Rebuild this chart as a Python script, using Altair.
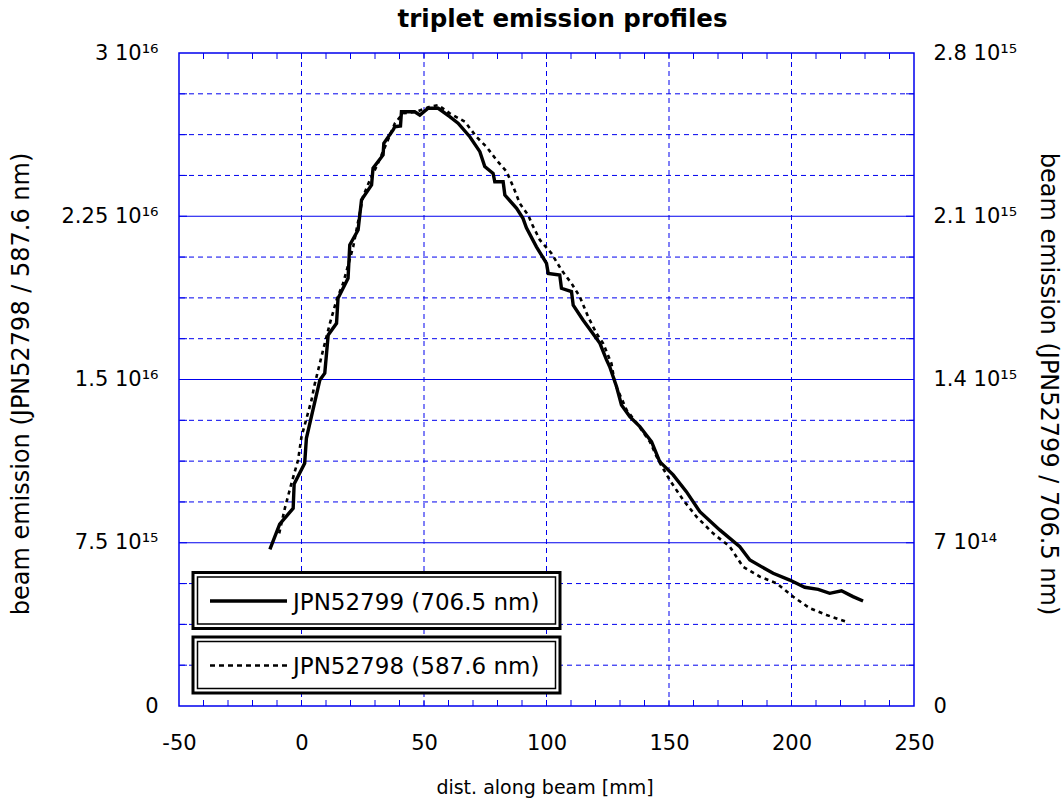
import json
import altair as alt
import pandas as pd

# ---------------- data ----------------
# JPN52799 (706.5 nm) -> right axis
x_52799 = [-12.9, -8.9, -3.4, -3.0, 1.3, 2.0, 7.5, 9.5, 10.9, 14.3, 14.9, 19.0, 19.7, 23.1,
           24.5, 28.6, 29.2, 33.3, 33.6, 37.4, 38.1, 40.4, 40.8, 46.2, 48.3, 51.7, 55.8, 60.5,
           63.9, 68.7, 72.8, 74.8, 78.2, 78.9, 82.3, 83.0, 87.8, 90.4, 91.8, 95.9, 100.0, 100.7,
           105.4, 106.1, 110.2, 110.9, 114.9, 118.4, 121.8, 124.5, 125.8, 128.6, 130.6, 134.0,
           138.1, 142.9, 146.2, 151.7, 157.1, 162.6, 170.7, 178.9, 183.0, 192.5, 199.3, 205.4,
           210.9, 215.6, 220.4, 225.1, 229.2]
y_52799 = [6.72e14, 7.80e14, 8.48e14, 9.52e14, 10.41e14, 11.48e14, 13.98e14, 14.27e14, 15.91e14,
           16.41e14, 17.48e14, 18.34e14, 19.77e14, 20.41e14, 21.70e14, 22.34e14, 23.06e14,
           23.63e14, 24.13e14, 24.70e14, 24.84e14, 24.87e14, 25.48e14, 25.48e14, 25.34e14,
           25.63e14, 25.63e14, 25.27e14, 24.99e14, 24.41e14, 23.77e14, 23.13e14, 22.84e14,
           22.48e14, 22.48e14, 21.91e14, 21.34e14, 20.91e14, 20.50e14, 19.69e14, 18.98e14,
           18.55e14, 18.48e14, 17.91e14, 17.77e14, 17.19e14, 16.55e14, 16.05e14, 15.55e14,
           14.84e14, 14.55e14, 13.69e14, 12.91e14, 12.41e14, 11.98e14, 11.33e14, 10.48e14,
           9.91e14, 9.19e14, 8.33e14, 7.55e14, 6.83e14, 6.26e14, 5.69e14, 5.40e14, 5.09e14,
           5.00e14, 4.83e14, 4.94e14, 4.69e14, 4.50e14]

# JPN52798 (587.6 nm) -> left axis
x_52798 = [-9.1, -6.8, -4.1, -1.4, 0.0, 4.1, 5.4, 8.8, 11.6, 14.3, 17.0, 21.1, 25.1, 27.9, 30.6,
           34.7, 38.1, 41.5, 46.9, 52.4, 55.8, 60.5, 66.7, 71.4, 75.5, 79.6, 83.7, 86.4, 89.1,
           92.5, 93.9, 97.3, 102.0, 106.1, 110.2, 113.6, 117.0, 120.4, 123.1, 126.5, 127.9,
           132.7, 137.4, 142.2, 145.6, 150.3, 155.8, 161.2, 168.0, 174.8, 180.2, 187.1, 193.9,
           200.7, 207.5, 214.3, 222.4]
y_52798 = [7.93e15, 9.08e15, 10.23e15, 11.30e15, 12.37e15, 14.06e15, 14.79e15, 16.35e15,
           17.58e15, 18.65e15, 19.42e15, 21.10e15, 23.40e15, 24.16e15, 24.78e15, 25.85e15,
           26.77e15, 27.23e15, 27.30e15, 27.53e15, 27.61e15, 27.23e15, 26.84e15, 26.15e15,
           25.69e15, 25.08e15, 24.55e15, 23.86e15, 23.09e15, 22.56e15, 22.18e15, 21.41e15,
           20.80e15, 20.03e15, 19.42e15, 18.80e15, 17.88e15, 17.12e15, 16.66e15, 15.74e15,
           14.82e15, 13.60e15, 12.91e15, 12.14e15, 11.30e15, 10.38e15, 9.46e15, 8.70e15,
           7.93e15, 7.32e15, 6.40e15, 5.94e15, 5.64e15, 5.02e15, 4.49e15, 4.18e15, 3.87e15]

x_ticks = [-50, 0, 50, 100, 150, 200, 250]
x_minor = [-40, -30, -20, -10, 0, 10, 20, 30, 40, 50, 60, 70, 80, 90, 100, 110, 120, 130,
           140, 150, 160, 170, 180, 190, 200, 210, 220, 230, 240]
x_grid = [0, 50, 100, 150, 200]

left_ticks = [0, 7.5e15, 1.5e16, 2.25e16, 3e16]
left_labels = ["0", "7.5 10¹⁵", "1.5 10¹⁶", "2.25 10¹⁶", "3 10¹⁶"]
right_ticks = [0, 7e14, 1.4e15, 2.1e15, 2.8e15]
right_labels = ["0", "7 10¹⁴", "1.4 10¹⁵", "2.1 10¹⁵", "2.8 10¹⁵"]

grid_major = [7.5e15, 1.5e16, 2.25e16]
grid_minor = [1.875e15, 3.75e15, 5.625e15, 9.375e15, 1.125e16, 1.3125e16, 1.6875e16,
              1.875e16, 2.0625e16, 2.4375e16, 2.625e16, 2.8125e16]

legend_labels = ["JPN52799 (706.5 nm)", "JPN52798 (587.6 nm)"]

title_text = "triplet emission profiles"
x_title = "dist. along beam [mm]"
left_title = "beam emission (JPN52798 / 587.6 nm)"
right_title = "beam emission (JPN52799 / 706.5 nm)"

# ---------------- styling ----------------
W, H = 735, 653
BLUE = "#0000ee"
FONT = "DejaVu Sans"
FS = 21

x_scale = alt.Scale(domain=[-50, 250], nice=False, zero=False)
yl_scale = alt.Scale(domain=[0, 3e16], nice=False, zero=True)
yr_scale = alt.Scale(domain=[0, 2.8e15], nice=False, zero=True)


def label_expr(ticks, labels):
    return (json.dumps(labels, ensure_ascii=False) + "[indexof(" +
            json.dumps([float(t) for t in ticks]) + ", datum.value)]")


common = dict(ticks=False, tickSize=0, domain=False, grid=False, labelFont=FONT,
              labelFontSize=FS, labelColor="black", labelOverlap=False, labelFlush=False,
              titleFont=FONT, titleFontWeight="normal", titleColor="black",
              titleAlign="center", titleBaseline="middle")

x_axis = alt.Axis(values=x_ticks, labelPadding=26, title=x_title,
                  labelExpr="(datum.value < 0 ? '-' : '') + abs(datum.value)",
                  titleFontSize=19, titleX=W / 2 - 2, titleY=81, **common)
yl_axis = alt.Axis(orient="left", values=left_ticks, labelExpr=label_expr(left_ticks, left_labels),
                   labelPadding=21, title=left_title, titleX=-158, titleY=H / 2 + 4,
                   titleFontSize=24, titleAngle=270, **common)
yr_axis = alt.Axis(orient="right", values=right_ticks,
                   labelExpr=label_expr(right_ticks, right_labels),
                   labelPadding=19, title=right_title, titleX=133, titleY=H / 2 + 4,
                   titleFontSize=24, titleAngle=90, **common)

X = lambda: alt.X("x:Q", scale=x_scale, axis=x_axis, title=x_title)

df_a = pd.DataFrame({"x": x_52798, "v": y_52798})
df_b = pd.DataFrame({"x": x_52799, "v": y_52799})

layers = []

# horizontal grid
layers.append(alt.Chart(pd.DataFrame({"v": grid_minor})).mark_rule(
    color=BLUE, strokeWidth=1, strokeDash=[5, 4]).encode(
    y=alt.Y("v:Q", scale=yl_scale, axis=None)))
layers.append(alt.Chart(pd.DataFrame({"v": grid_major})).mark_rule(
    color=BLUE, strokeWidth=1.2).encode(
    y=alt.Y("v:Q", scale=yl_scale, axis=None)))
# vertical grid
layers.append(alt.Chart(pd.DataFrame({"x": x_grid})).mark_rule(
    color=BLUE, strokeWidth=1, strokeDash=[5, 4]).encode(x=X()))
# inward ticks on x (bottom and top)
layers.append(alt.Chart(pd.DataFrame({"x": x_minor})).mark_rule(
    color=BLUE, strokeWidth=1).encode(x=X(), y=alt.value(H), y2=alt.value(H - 6)))
layers.append(alt.Chart(pd.DataFrame({"x": x_minor})).mark_rule(
    color=BLUE, strokeWidth=1).encode(x=X(), y=alt.value(0), y2=alt.value(6)))
# inward ticks on y (left and right)
all_levels = sorted(grid_minor + grid_major)
layers.append(alt.Chart(pd.DataFrame({"v": all_levels})).mark_rule(
    color=BLUE, strokeWidth=1).encode(
    y=alt.Y("v:Q", scale=yl_scale, axis=None), x=alt.value(0), x2=alt.value(8)))
layers.append(alt.Chart(pd.DataFrame({"v": all_levels})).mark_rule(
    color=BLUE, strokeWidth=1).encode(
    y=alt.Y("v:Q", scale=yl_scale, axis=None), x=alt.value(W - 8), x2=alt.value(W)))

# curves
layers.append(alt.Chart(df_a).mark_line(color="black", strokeWidth=2.6, strokeDash=[4, 4]).encode(
    x=X(), y=alt.Y("v:Q", scale=yl_scale, axis=yl_axis, title=left_title)))
layers.append(alt.Chart(df_b).mark_line(color="black", strokeWidth=3.4).encode(
    x=X(), y=alt.Y("v:Q", scale=yr_scale, axis=yr_axis, title=right_title)))


# legend boxes
def legend_entry(label, top, dash):
    d = alt.Data(values=[{"label": label}])
    out = []
    out.append(alt.Chart(d).mark_rect(fill="white", stroke="black", strokeWidth=3).encode(
        x=alt.value(14), x2=alt.value(381), y=alt.value(top), y2=alt.value(top + 56)))
    out.append(alt.Chart(d).mark_rect(fill="white", stroke="black", strokeWidth=1.5).encode(
        x=alt.value(18.5), x2=alt.value(376.5), y=alt.value(top + 4.5), y2=alt.value(top + 51.5)))
    rule_kw = dict(color="black", strokeWidth=3.4 if dash is None else 2.6)
    if dash is not None:
        rule_kw["strokeDash"] = dash
    out.append(alt.Chart(d).mark_rule(**rule_kw).encode(
        x=alt.value(31), x2=alt.value(108), y=alt.value(top + 28.5)))
    out.append(alt.Chart(d).mark_text(align="left", baseline="middle", font=FONT, fontSize=23,
                                      color="black").encode(
        x=alt.value(114), y=alt.value(top + 30), text="label:N"))
    return out


layers += legend_entry(legend_labels[0], 519.5, None)
layers += legend_entry(legend_labels[1], 584, [5, 4])

chart = alt.layer(*layers).resolve_scale(y="independent").properties(
    width=W, height=H,
    title=alt.TitleParams(title_text, font=FONT, fontSize=24.5, fontWeight="bold", anchor="middle",
                          dx=16, offset=10, frame="group", color="black"),
    autosize=alt.AutoSizeParams(type="none"),
    padding={"left": 179, "top": 53, "right": 147, "bottom": 94},
).configure_view(stroke=BLUE, strokeWidth=1.5)

chart.save("out.html", embed_options={"renderer": "svg", "actions": False})
